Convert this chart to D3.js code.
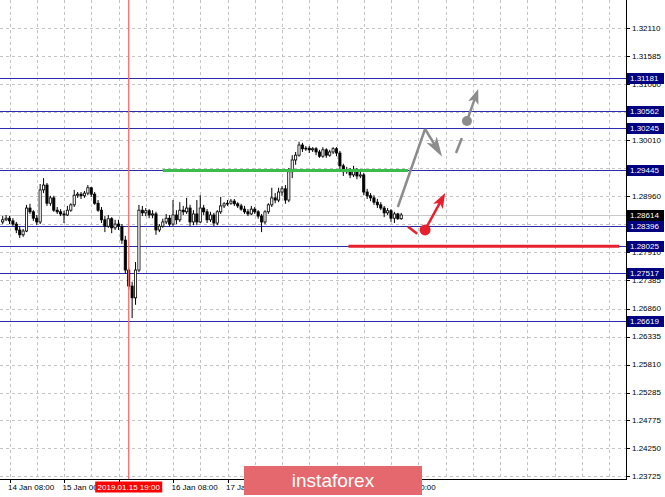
<!DOCTYPE html>
<html><head><meta charset="utf-8">
<script src="https://cdn.jsdelivr.net/npm/d3@7"></script>
<style>body{margin:0;background:#fff}svg{display:block}text{font-family:"Liberation Sans",Arial,sans-serif}</style>
</head><body><svg id="c" width="665" height="497"></svg>
<script>
// ---------- DATA ----------
const firstBar = -2; // bar index 0 = 14 Jan 08:00 (H1 bars)
const open  = [1.2848,1.2852,1.2855,1.2850,1.2844,1.2833,1.2824,1.2831,1.2874,1.2867,1.2855,1.2848,1.2908,1.2917,1.2883,1.2893,1.2870,1.2867,1.2863,1.2861,1.2870,1.2880,1.2898,1.2900,1.2897,1.2902,1.2912,1.2900,1.2883,1.2870,1.2852,1.2840,1.2854,1.2837,1.2844,1.2840,1.2814,1.2758,1.2728,1.2706,1.2758,1.2870,1.2865,1.2869,1.2861,1.2863,1.2833,1.2840,1.2848,1.2855,1.2844,1.2861,1.2852,1.2870,1.2867,1.2874,1.2848,1.2863,1.2848,1.2874,1.2867,1.2852,1.2861,1.2846,1.2867,1.2878,1.2882,1.2883,1.2887,1.2882,1.2878,1.2872,1.2867,1.2863,1.2872,1.2867,1.2859,1.2848,1.2867,1.2880,1.2893,1.2889,1.2904,1.2910,1.2889,1.2942,1.2964,1.2973,1.2992,1.2985,1.2986,1.2983,1.2985,1.2979,1.2971,1.2983,1.2973,1.2979,1.2985,1.2977,1.2953,1.2942,1.2945,1.2936,1.2945,1.2934,1.2936,1.2904,1.2897,1.2893,1.2885,1.2880,1.2874,1.2865,1.2869,1.2855,1.2863,1.2854];
const high  = [1.2859,1.2861,1.2859,1.2855,1.2848,1.2840,1.2835,1.2880,1.2882,1.2870,1.2861,1.2919,1.2930,1.2921,1.2897,1.2897,1.2876,1.2872,1.2869,1.2878,1.2883,1.2908,1.2904,1.2904,1.2906,1.2917,1.2913,1.2904,1.2889,1.2876,1.2859,1.2861,1.2857,1.2852,1.2852,1.2844,1.2822,1.2762,1.2736,1.2773,1.2880,1.2878,1.2874,1.2872,1.2870,1.2867,1.2844,1.2854,1.2863,1.2861,1.2889,1.2870,1.2885,1.2878,1.2893,1.2880,1.2870,1.2889,1.2898,1.2880,1.2872,1.2867,1.2865,1.2870,1.2895,1.2885,1.2889,1.2891,1.2891,1.2885,1.2882,1.2878,1.2872,1.2878,1.2876,1.2870,1.2863,1.2870,1.2883,1.2912,1.2902,1.2912,1.2915,1.2917,1.2949,1.2973,1.2979,1.2998,1.2996,1.2990,1.2990,1.2988,1.2988,1.2983,1.2988,1.2986,1.2983,1.2988,1.2988,1.2981,1.2957,1.2951,1.2949,1.2953,1.2949,1.2942,1.2940,1.2910,1.2902,1.2898,1.2891,1.2885,1.2878,1.2874,1.2872,1.2867,1.2865,1.2865];
const low   = [1.2844,1.2850,1.2844,1.2840,1.2827,1.2818,1.2820,1.2829,1.2863,1.2850,1.2842,1.2844,1.2902,1.2878,1.2878,1.2867,1.2863,1.2859,1.2846,1.2859,1.2867,1.2876,1.2893,1.2891,1.2893,1.2898,1.2895,1.2880,1.2867,1.2846,1.2829,1.2837,1.2827,1.2833,1.2833,1.2807,1.2751,1.2721,1.2668,1.2693,1.2754,1.2859,1.2859,1.2855,1.2855,1.2824,1.2829,1.2837,1.2844,1.2839,1.2840,1.2844,1.2848,1.2861,1.2863,1.2840,1.2842,1.2842,1.2846,1.2861,1.2846,1.2848,1.2840,1.2842,1.2863,1.2874,1.2878,1.2880,1.2878,1.2874,1.2869,1.2863,1.2859,1.2861,1.2863,1.2854,1.2829,1.2844,1.2863,1.2876,1.2883,1.2885,1.2897,1.2882,1.2885,1.2930,1.2955,1.2970,1.2979,1.2981,1.2977,1.2979,1.2973,1.2968,1.2968,1.2968,1.2970,1.2975,1.2971,1.2945,1.2934,1.2938,1.2930,1.2932,1.2928,1.2930,1.2898,1.2891,1.2887,1.2880,1.2874,1.2870,1.2857,1.2861,1.2848,1.2846,1.2852,1.2852];
const close = [1.2852,1.2855,1.2850,1.2844,1.2833,1.2824,1.2831,1.2874,1.2867,1.2855,1.2848,1.2908,1.2917,1.2883,1.2893,1.2870,1.2867,1.2863,1.2861,1.2870,1.2880,1.2898,1.2900,1.2897,1.2902,1.2912,1.2900,1.2883,1.2870,1.2852,1.2840,1.2854,1.2837,1.2844,1.2840,1.2814,1.2758,1.2728,1.2706,1.2758,1.2870,1.2865,1.2869,1.2861,1.2863,1.2833,1.2840,1.2848,1.2855,1.2844,1.2861,1.2852,1.2870,1.2867,1.2874,1.2848,1.2863,1.2848,1.2874,1.2867,1.2852,1.2861,1.2846,1.2867,1.2878,1.2882,1.2883,1.2887,1.2882,1.2878,1.2872,1.2867,1.2863,1.2872,1.2867,1.2859,1.2848,1.2867,1.2880,1.2893,1.2889,1.2904,1.2910,1.2889,1.2942,1.2964,1.2973,1.2992,1.2985,1.2986,1.2983,1.2985,1.2979,1.2971,1.2983,1.2973,1.2979,1.2985,1.2977,1.2953,1.2942,1.2945,1.2936,1.2945,1.2934,1.2936,1.2904,1.2897,1.2893,1.2885,1.2880,1.2874,1.2865,1.2869,1.2855,1.2863,1.2854,1.2861];

// right-axis grid values; labels that the level boxes fully hide are left empty
const yTickValues = [1.32110,1.31585,1.31060,1.30535,1.30010,1.29485,1.28960,1.28435,1.27910,1.27385,1.26860,1.26335,1.25810,1.25285,1.24775,1.24250,1.23725];
const yTickLabels = ["1.32110","1.31585","1.31060","","1.30010","","1.28960","","1.27910","1.27385","1.26860","1.26335","1.25810","1.25285","1.24775","1.24250","1.23725"];
const levelPrices = [1.31181,1.30562,1.30245,1.29445,1.28396,1.28025,1.27517,1.26619];
const levelLabels = ["1.31181","1.30562","1.30245","1.29445","1.28396","1.28025","1.27517","1.26619"];
const bidPrice = 1.28614, bidLabel = "1.28614";

// time ticks every 16 bars; labels fully covered by the marker box / banner are left empty
const timeTickBars = [0,16,32,48,64,80,96,112];
const timeTickLabels = ["14 Jan 08:00","15 Jan 00:00","","16 Jan 08:00","17 Jan 00:00","","","21 Jan 00:00"];
const markerBar = 35, markerLabel = "2019.01.15 19:00";

const greenSegment = [[45,1.29445],[117,1.29445]];
const redSegment   = [[99.5,1.28025],[179,1.28025]];
const grayPath     = [[114,1.2876],[122,1.3022],[127,1.2970]];
const grayDash     = [[131.1,1.2977],[132.8,1.3005]];
const grayDot      = [134.3,1.3037];
const grayArrow    = [[134.3,1.3037],[137.6,1.3097]];
const redDash      = [[117,1.2839],[119.7,1.2826]];
const redDot       = [122,1.2833];
const redArrow     = [[122,1.2833],[127.9,1.2902]];
const brand = "instaforex";

// ---------- LAYOUT ----------
const W = 665, H = 497, plotR = 626, plotB = 479;
const svg = d3.select("#c");
svg.append("rect").attr("width",W).attr("height",H).attr("fill","#fff");
const x = d3.scaleLinear().domain([0,16]).range([9.5,64]);
const y = d3.scaleLinear().domain([1.23725,1.32110]).range([476,28]);
const px = d => x(d[0]), py = d => y(d[1]);
const snap = v => Math.round(v)+0.5;

// grid
const g = svg.append("g").attr("shape-rendering","crispEdges");
g.selectAll("line.hg").data(yTickValues).join("line").attr("class","hg")
  .attr("x1",0).attr("x2",plotR).attr("y1",d=>snap(y(d))).attr("y2",d=>snap(y(d)))
  .attr("stroke","#c4c4c4").attr("stroke-dasharray","3,3");
const vgrid = d3.range(0, 184, 8).filter(b => x(b) < plotR);
g.selectAll("line.vg").data(vgrid).join("line").attr("class","vg")
  .attr("x1",d=>snap(x(d))).attr("x2",d=>snap(x(d))).attr("y1",0).attr("y2",plotB)
  .attr("stroke","#c4c4c4").attr("stroke-dasharray","3,3");

// level lines
g.selectAll("line.lv").data(levelPrices).join("line").attr("class","lv")
  .attr("x1",0).attr("x2",plotR).attr("y1",d=>snap(y(d))).attr("y2",d=>snap(y(d)))
  .attr("stroke","#2c2cab").attr("stroke-width",1);
g.append("line").attr("x1",0).attr("x2",plotR)
  .attr("y1",snap(y(bidPrice))).attr("y2",snap(y(bidPrice)))
  .attr("stroke","#c8c8c8");

// candles
const bars = d3.range(open.length).map(i => ({b:i+firstBar,o:open[i],h:high[i],l:low[i],c:close[i]}));
const cg = svg.append("g");
cg.selectAll("line.wick").data(bars).join("line").attr("class","wick")
  .attr("x1",d=>x(d.b)).attr("x2",d=>x(d.b)).attr("y1",d=>y(d.h)).attr("y2",d=>y(d.l))
  .attr("stroke","#000").attr("stroke-width",1);
cg.selectAll("rect.body").data(bars).join("rect").attr("class","body")
  .attr("x",d=>x(d.b)-1.1).attr("width",2.2)
  .attr("y",d=>y(Math.max(d.o,d.c))).attr("height",d=>Math.max(0.8,Math.abs(y(d.o)-y(d.c))))
  .attr("fill",d=>d.c>=d.o?"#fff":"#000").attr("stroke","#000").attr("stroke-width",0.8);

// red vertical marker
svg.append("line").attr("x1",x(markerBar)).attr("x2",x(markerBar))
  .attr("y1",0).attr("y2",plotB).attr("stroke","#ff6a6a").attr("stroke-width",1.3);

// green & red horizontal segments
const line = d3.line().x(px).y(py);
svg.append("path").attr("d",line(greenSegment)).attr("stroke","#3cbc4c").attr("stroke-width",3).attr("fill","none");
svg.append("path").attr("d",line(redSegment)).attr("stroke","#e8202e").attr("stroke-width",3).attr("fill","none");

// arrows
function arrowHead(p0,p1,col,len,wid){
  const x0=px(p0),y0=py(p0),x1=px(p1),y1=py(p1);
  const a=Math.atan2(y1-y0,x1-x0);
  const hx=x1-len*Math.cos(a), hy=y1-len*Math.sin(a);
  const nx=-Math.sin(a)*wid/2, ny=Math.cos(a)*wid/2;
  svg.append("path").attr("d",`M${x1},${y1}L${hx+nx},${hy+ny}L${hx+len*0.25*Math.cos(a)},${hy+len*0.25*Math.sin(a)}L${hx-nx},${hy-ny}Z`).attr("fill",col);
}
function arrow(p1,p2,col,len,wid){
  const a=Math.atan2(py(p2)-py(p1),px(p2)-px(p1));
  svg.append("line").attr("x1",px(p1)).attr("y1",py(p1)).attr("x2",px(p2)-len*0.7*Math.cos(a)).attr("y2",py(p2)-len*0.7*Math.sin(a)).attr("stroke",col).attr("stroke-width",2.5);
  arrowHead(p1,p2,col,len,wid);
}
const gray="#8c8c8c", red="#e8202e";
svg.append("path").attr("d",line(grayPath.slice(0,2))).attr("stroke",gray).attr("stroke-width",2.5).attr("fill","none");
arrow(grayPath[1],grayPath[2],gray,20,12);
svg.append("path").attr("d",line(grayDash)).attr("stroke",gray).attr("stroke-width",2.5).attr("fill","none");
arrow(grayArrow[0],grayArrow[1],gray,15,11);
svg.append("circle").attr("cx",px(grayDot)).attr("cy",py(grayDot)).attr("r",5).attr("fill",gray);
svg.append("path").attr("d",line(redDash)).attr("stroke",red).attr("stroke-width",2.5).attr("fill","none");
arrow(redArrow[0],redArrow[1],red,15,11);
svg.append("circle").attr("cx",px(redDot)).attr("cy",py(redDot)).attr("r",5.5).attr("fill",red);

// frame
svg.append("path").attr("d",`M${plotR+0.5},0V${plotB+0.5}H0`).attr("stroke","#000").attr("fill","none").attr("shape-rendering","crispEdges");

// right axis
const ra = svg.append("g").attr("font-size","8px");
ra.selectAll("line.tk").data(yTickValues).join("line").attr("class","tk")
  .attr("x1",plotR).attr("x2",plotR+4).attr("y1",d=>snap(y(d))).attr("y2",d=>snap(y(d))).attr("stroke","#000").attr("shape-rendering","crispEdges");
ra.selectAll("text.tl").data(yTickValues).join("text").attr("class","tl")
  .attr("x",632).attr("y",d=>y(d)).attr("dy","0.35em").attr("fill","#000").text((d,i)=>yTickLabels[i]);
const boxes = levelPrices.map((v,i)=>({v,t:levelLabels[i],bg:"#000080"})).concat([{v:bidPrice,t:bidLabel,bg:"#000"}]);
const bxg = ra.selectAll("g.bx").data(boxes).join("g").attr("class","bx");
bxg.append("rect").attr("x",plotR+1).attr("y",d=>Math.round(y(d.v))-5).attr("width",37).attr("height",11).attr("fill",d=>d.bg);
bxg.append("text").attr("x",630).attr("y",d=>Math.round(y(d.v))+0.5).attr("dy","0.35em").attr("fill","#fff").text(d=>d.t);

// bottom axis
const ba = svg.append("g").attr("font-size","8px");
ba.selectAll("line.bt").data(timeTickBars).join("line").attr("class","bt")
  .attr("x1",d=>snap(x(d))).attr("x2",d=>snap(x(d))).attr("y1",plotB).attr("y2",plotB+4).attr("stroke","#000").attr("shape-rendering","crispEdges");
ba.selectAll("text.bl").data(timeTickBars).join("text").attr("class","bl")
  .attr("x",d=>x(d)-1.5).attr("y",490).attr("fill","#000").text((d,i)=>timeTickLabels[i]);
const mx = x(markerBar);
ba.append("rect").attr("x",mx-33.5).attr("y",481.5).attr("width",67).attr("height",11).attr("fill","#ff0000");
ba.append("text").attr("x",mx).attr("y",490).attr("text-anchor","middle").attr("fill","#fff").text(markerLabel);

// brand banner
svg.append("rect").attr("x",244).attr("y",466).attr("width",178).attr("height",29).attr("fill","#e4686d");
svg.append("text").attr("x",333).attr("y",487).attr("text-anchor","middle").attr("fill","#fff")
  .attr("font-family","'Open Sans',sans-serif").attr("font-size","19px").text(brand);
</script></body></html>
